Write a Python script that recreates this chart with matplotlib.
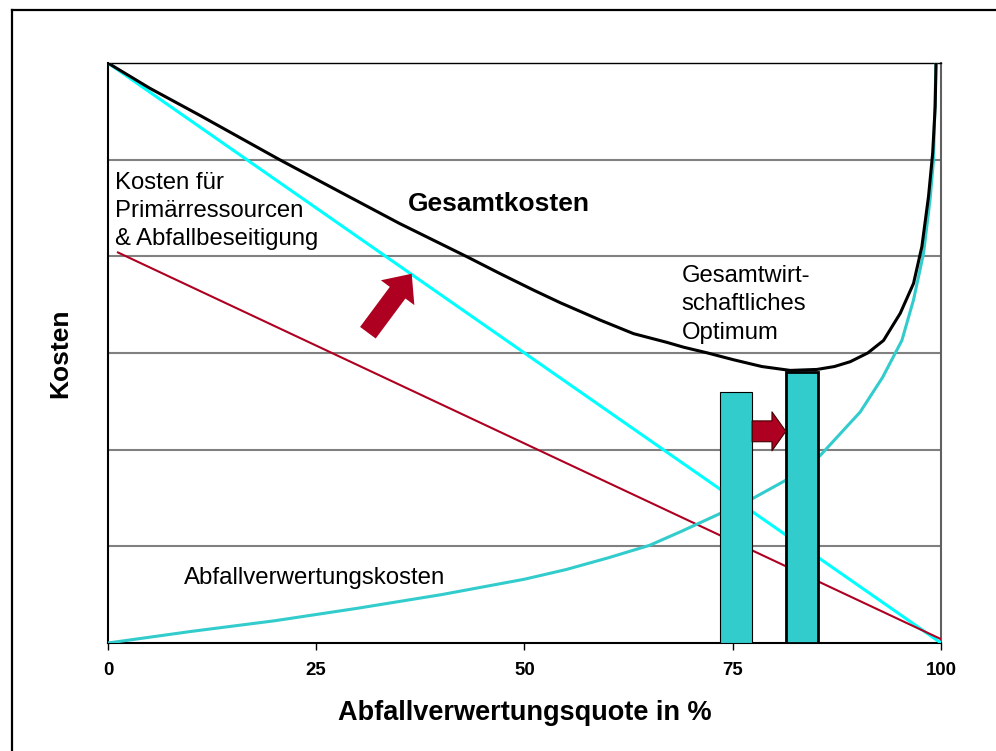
import matplotlib
matplotlib.use('Agg')
import matplotlib.pyplot as plt
from matplotlib.patches import FancyArrowPatch
from matplotlib.lines import Line2D

plt.rcParams['font.family'] = ['Liberation Sans', 'DejaVu Sans']

# Kosten fuer Primaerressourcen (gerade Linie)
primaer_x = [0, 100]
primaer_y = [6.0, 0.0]

# zweite, flachere Linie (dunkelrot)
rot_x = [1.2, 100]
rot_y = [4.04, 0.04]

# Abfallverwertungskosten
verwertung_x = [0, 10, 20, 30, 40, 50, 55, 60, 65, 68.7, 73.5, 77.5, 81.5, 85.5, 90.3, 93, 95.3, 96.7, 97.9, 98.7, 99.1, 99.4]
verwertung_y = [0, 0.12, 0.23, 0.36, 0.5, 0.66, 0.76, 0.88, 1.01, 1.15, 1.34, 1.5, 1.69, 1.94, 2.39, 2.75, 3.13, 3.55, 4.03, 4.6, 5.0, 6.0]

# Gesamtkosten
gesamt_x = [0, 5, 11, 20.6, 28, 35, 39, 43, 47.1, 51.1, 54.3, 59.1, 63.1, 67.1, 69.1, 72, 75.1, 78.5, 81.9,
            85.1, 87.2, 89.1, 91.2, 93.1, 95.1, 96.7, 97.7, 98.5, 99.0, 99.3, 99.4]
gesamt_y = [6.0, 5.74, 5.46, 5.0, 4.66, 4.34, 4.17, 4.0, 3.82, 3.65, 3.52, 3.34, 3.2, 3.11, 3.06, 3.0, 2.93, 2.86, 2.82,
            2.83, 2.86, 2.91, 3.0, 3.13, 3.41, 3.72, 4.1, 4.62, 5.07, 5.55, 6.0]

# Saeulen (alt / neues Optimum)
bar_x = [75.4, 83.3]
bar_h = [2.6, 2.8]
bar_w = 3.85

xticks = [0, 25, 50, 75, 100]

red = '#AE0020'
teal = '#33CCCC'

fig = plt.figure(figsize=(9.96, 7.51), dpi=100)
ax = fig.add_axes([0.1084, 0.1438, 0.8364, 0.7723])

# outer frame (only top and left edge visible)
fig.add_artist(Line2D([0.012, 1.0], [0.9867, 0.9867], color='black', lw=1.6))
fig.add_artist(Line2D([0.012, 0.012], [0.0, 0.9867], color='black', lw=1.6))

ax.plot(primaer_x, primaer_y, color='#00FFFF', lw=2.2, zorder=3)
ax.plot(rot_x, rot_y, color=red, lw=1.5, zorder=3)
ax.plot(verwertung_x, verwertung_y, color=teal, lw=2.2, zorder=3)

ax.bar(bar_x[0], bar_h[0], width=bar_w, color=teal, edgecolor='black', lw=0.8, zorder=4)
ax.bar(bar_x[1], bar_h[1], width=bar_w, color=teal, edgecolor='black', lw=2.0, zorder=4)

ax.plot(gesamt_x, gesamt_y, color='black', lw=2.2, zorder=5)

# Pfeil zwischen den Saeulen
ax.add_patch(FancyArrowPatch((bar_x[0] + bar_w / 2, 2.19), (bar_x[1] - bar_w / 2, 2.19),
                             arrowstyle='simple,head_length=10,head_width=28,tail_width=15',
                             mutation_scale=1, shrinkA=0, shrinkB=0,
                             facecolor=red, edgecolor='#400000', lw=0.8, zorder=6))
# grosser Pfeil
ax.add_patch(FancyArrowPatch((31.2, 3.21), (36.46, 3.82),
                             arrowstyle='simple,head_length=17,head_width=30,tail_width=14',
                             mutation_scale=1, shrinkA=0, shrinkB=0,
                             facecolor=red, edgecolor='none', zorder=6))


def lines_text(x, y0, lines, dy=0.29, **kw):
    for i, s in enumerate(lines):
        ax.text(x, y0 - i * dy, s, va='baseline', ha='left', **kw)


lines_text(0.84, 4.70, ['Kosten für', 'Primärressourcen', '& Abfallbeseitigung'], fontsize=17.2)
lines_text(68.87, 3.73, ['Gesamtwirt-', 'schaftliches', 'Optimum'], fontsize=17.2)
ax.text(36.05, 4.47, 'Gesamtkosten', fontsize=19, fontweight='bold', va='baseline')
ax.text(9.12, 0.61, 'Abfallverwertungskosten', fontsize=17.3, va='baseline')

ax.set_xlim(0, 100)
ax.set_ylim(0, 6)
ax.set_xticks(xticks)
ax.set_xticklabels([str(t) for t in xticks], fontsize=13.4, fontweight='bold')
ax.set_yticks([1, 2, 3, 4, 5])
ax.tick_params(axis='y', length=0, labelleft=False)
ax.tick_params(axis='x', direction='out', length=5, width=1, pad=9)
ax.grid(axis='y', color='#808080', lw=1.5)
ax.set_axisbelow(True)

for side in ['left', 'bottom']:
    ax.spines[side].set_color('black')
    ax.spines[side].set_linewidth(1.5)
ax.spines['top'].set_color('black')
ax.spines['top'].set_linewidth(1.0)
ax.spines['right'].set_color('#606060')
ax.spines['right'].set_linewidth(1.5)

ax.set_xlabel('Abfallverwertungsquote in %', fontsize=19.5, fontweight='bold', labelpad=15)
ax.set_ylabel('Kosten', fontsize=19, fontweight='bold', labelpad=26)

fig.savefig('out.png', dpi=100)
